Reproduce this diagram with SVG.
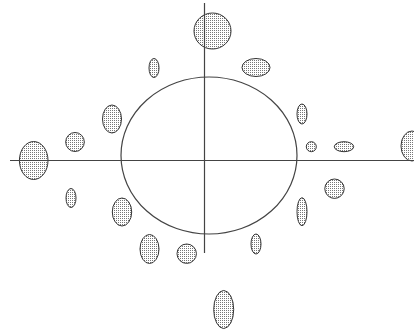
<svg xmlns="http://www.w3.org/2000/svg" width="414" height="331" viewBox="0 0 414 331">
<style>
.b{fill:url(#dots);stroke:#333;stroke-width:1}
.ax{stroke:#444;stroke-width:1.2;fill:none}
</style>
<defs>
<pattern id="dots" width="2" height="2" patternUnits="userSpaceOnUse">
<rect width="2" height="2" fill="#fff"/>
<rect width="1" height="1" fill="#777"/>
</pattern>
</defs>
<rect width="414" height="331" fill="#fff"/>
<g id="blobs">
<g id="b1"><ellipse class="b" cx="212.5" cy="31" rx="18.5" ry="18"/></g>
<g id="b2"><ellipse class="b" cx="256" cy="67.5" rx="14" ry="9"/></g>
<g id="b3"><ellipse class="b" cx="154" cy="68" rx="5" ry="9.5"/></g>
<g id="b4"><ellipse class="b" cx="112" cy="119" rx="9.5" ry="14"/></g>
<g id="b5"><ellipse class="b" cx="75" cy="142" rx="9.3" ry="9.5"/></g>
<g id="b6"><ellipse class="b" cx="33.7" cy="160.5" rx="14.3" ry="19"/></g>
<g id="b7"><ellipse class="b" cx="302" cy="114" rx="5" ry="10"/></g>
<g id="b8"><ellipse class="b" cx="311.3" cy="146.7" rx="5" ry="5"/></g>
<g id="b9"><ellipse class="b" cx="344" cy="146.7" rx="9.7" ry="5"/></g>
<g id="b10"><ellipse class="b" cx="412" cy="146" rx="11" ry="15"/></g>
<g id="b11"><ellipse class="b" cx="71" cy="198" rx="5" ry="9.5"/></g>
<g id="b12"><ellipse class="b" cx="122" cy="212" rx="9.7" ry="14"/></g>
<g id="b13"><ellipse class="b" cx="149.5" cy="249" rx="9.5" ry="14.5"/></g>
<g id="b14"><ellipse class="b" cx="186.7" cy="253.7" rx="9.7" ry="9.7"/></g>
<g id="b15"><ellipse class="b" cx="334.5" cy="188.7" rx="9.7" ry="9.7"/></g>
<g id="b16"><ellipse class="b" cx="302" cy="211.7" rx="5" ry="14"/></g>
<g id="b17"><ellipse class="b" cx="256" cy="244" rx="5" ry="10"/></g>
<g id="b18"><ellipse class="b" cx="223.7" cy="309.5" rx="10" ry="19"/></g>
</g>
<g id="main"><ellipse cx="209" cy="155.5" rx="88" ry="78.5" fill="none" stroke="#444" stroke-width="1.2"/></g>
<g id="axes">
<line class="ax" x1="10" y1="160.5" x2="414" y2="160.5"/>
<line class="ax" x1="204.5" y1="3" x2="204.5" y2="253"/>
</g>
</svg>
